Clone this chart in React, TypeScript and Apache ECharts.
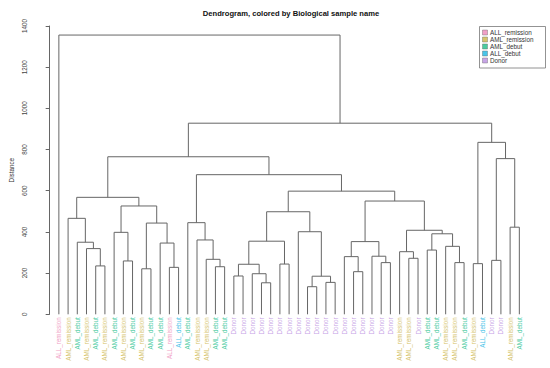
import React, { useEffect, useRef } from 'react';
import * as echarts from 'echarts';

const chartTitle = 'Dendrogram, colored by Biological sample name';
const yAxisName = 'Distance';

const groups = ['ALL_remission', 'AML_remission', 'AML_debut', 'ALL_debut', 'Donor'];
const groupColors = ['#F09FC6', '#D5C46C', '#4ACB9F', '#48C4E8', '#C7A4E6'];

// leaves in dendrogram order (left to right)
const leafLabels = [
  'ALL_remission', 'AML_remission', 'AML_debut', 'AML_remission', 'AML_debut',
  'AML_remission', 'AML_debut', 'AML_remission', 'AML_debut', 'AML_remission',
  'AML_debut', 'AML_debut', 'ALL_remission', 'ALL_debut', 'AML_debut',
  'AML_remission', 'AML_remission', 'AML_debut', 'AML_debut',
  'Donor', 'Donor', 'Donor', 'Donor', 'Donor', 'Donor', 'Donor', 'Donor', 'Donor',
  'Donor', 'Donor', 'Donor', 'Donor', 'Donor', 'Donor', 'Donor', 'Donor', 'Donor',
  'AML_remission', 'AML_remission', 'Donor', 'AML_debut', 'AML_debut',
  'AML_remission', 'AML_remission', 'AML_debut', 'AML_remission', 'ALL_debut',
  'Donor', 'Donor', 'AML_remission', 'AML_debut',
];

// hclust-style merge table: negative = leaf position (1-based), positive = earlier merge (1-based)
const merges: [number, number][] = [
  [-5, -6], [-4, 1], [-3, 2], [-2, 3], [-8, -9], [-7, 5], [-10, -11], [-13, -14], [-12, 8], [7, 9],
  [6, 10], [4, 11], [-18, -19], [-17, 13], [-16, 14], [-15, 15], [-20, -21], [-23, -24], [-22, 18], [17, 19],
  [-25, -26], [20, 21], [-28, -29], [-30, -31], [23, 24], [-27, 25], [22, 26], [-33, -34], [-32, 28], [-36, -37],
  [-35, 30], [29, 31], [-39, -40], [-38, 33], [-41, -42], [-44, -45], [-43, 36], [35, 37], [34, 38], [32, 39],
  [27, 40], [16, 41], [12, 42], [-46, -47], [-48, -49], [-50, -51], [45, 46], [44, 47], [43, 48], [-1, 49],
];

const mergeHeights = [
  235, 319, 350, 466, 259, 398, 221, 228, 346, 443,
  526, 568, 231, 267, 361, 445, 186, 153, 197, 243,
  244, 355, 134, 155, 185, 401, 498, 207, 280, 251,
  282, 353, 272, 304, 312, 251, 330, 391, 408, 550,
  598, 678, 765, 246, 262, 423, 756, 835, 928, 1356,
];

const yMin = 0;
const yMax = 1400;
const yInterval = 200;

const FONT = '"Liberation Sans", Arial, Helvetica, sans-serif';

function buildSegments() {
  const nodeX: number[] = [];
  const posOf = (ref: number) => (ref < 0 ? { x: -ref, h: 0 } : { x: nodeX[ref - 1], h: mergeHeights[ref - 1] });
  const segs: number[][] = [];
  merges.forEach(([a, b], i) => {
    const l = posOf(a);
    const r = posOf(b);
    nodeX[i] = (l.x + r.x) / 2;
    segs.push([l.x, r.x, l.h, r.h, mergeHeights[i]]);
  });
  return segs;
}

export default function App() {
  const ref = useRef<HTMLDivElement>(null);
  useEffect(() => {
    if (!ref.current) return;
    const chart = echarts.init(ref.current, null, { renderer: 'svg' });
    const n = leafLabels.length;
    const spacing = 9.24;
    const firstLeafX = 57.3;
    const gridLeft = firstLeafX - spacing;
    const gridRight = 550 - (gridLeft + (n + 1) * spacing);
    const axisX = 32.3;

    const rich: Record<string, any> = {};
    groups.forEach((g, i) => {
      rich['g' + i] = { color: groupColors[i], fontSize: 6.3, fontFamily: FONT };
    });

    const legendGraphics: any[] = [
      {
        type: 'rect',
        shape: { x: 479.5, y: 26.5, width: 66, height: 41.5 },
        style: { fill: '#fff', stroke: '#777', lineWidth: 0.8 },
      },
    ];
    groups.forEach((g, i) => {
      const cy = 32.5 + i * 7;
      legendGraphics.push({
        type: 'rect',
        shape: { x: 482.5, y: cy - 2.5, width: 5, height: 5 },
        style: { fill: groupColors[i], stroke: '#666', lineWidth: 0.4 },
      });
      legendGraphics.push({
        type: 'text',
        x: 490,
        y: cy,
        style: { text: g, fill: '#333', fontSize: 6.3, fontFamily: FONT, verticalAlign: 'middle', align: 'left' },
      });
    });

    chart.setOption({
      animation: false,
      backgroundColor: '#ffffff',
      title: {
        text: chartTitle,
        left: 286,
        top: 4,
        textAlign: 'center',
        textStyle: { fontSize: 7.6, fontWeight: 'bold', color: '#111', fontFamily: FONT },
      },
      grid: { left: gridLeft, right: gridRight, top: 26, bottom: 368 - 314.3 },
      xAxis: {
        type: 'value',
        min: 0,
        max: n + 1,
        interval: 1,
        axisLine: { show: false },
        axisTick: { show: false },
        splitLine: { show: false },
        axisLabel: {
          rotate: 90,
          margin: 3,
          fontSize: 6.3,
          fontFamily: FONT,
          showMinLabel: true,
          showMaxLabel: true,
          formatter: (v: number) => {
            const idx = Math.round(v) - 1;
            if (idx < 0 || idx >= n) return '';
            const gi = groups.indexOf(leafLabels[idx]);
            return '{g' + gi + '|' + leafLabels[idx] + '}';
          },
          rich,
        },
      },
      yAxis: {
        type: 'value',
        min: yMin,
        max: yMax,
        interval: yInterval,
        offset: gridLeft - axisX,
        name: yAxisName,
        nameLocation: 'middle',
        nameRotate: 90,
        nameGap: 19,
        nameTextStyle: { fontSize: 6.3, color: '#333', fontFamily: FONT },
        axisLine: { show: true, lineStyle: { color: '#666', width: 1 } },
        axisTick: { show: true, length: 4, lineStyle: { color: '#666' } },
        splitLine: { show: false },
        axisLabel: {
          rotate: 90,
          margin: 6,
          fontSize: 6.3,
          color: '#444',
          fontFamily: FONT,
          formatter: (v: number) => String(v),
        },
      },
      graphic: legendGraphics,
      series: [
        {
          type: 'custom',
          encode: { x: [0, 1], y: [2, 3, 4] },
          data: buildSegments(),
          renderItem: (params: any, api: any) => {
            const xl = api.value(0);
            const xr = api.value(1);
            const hl = api.value(2);
            const hr = api.value(3);
            const h = api.value(4);
            const pts = [api.coord([xl, hl]), api.coord([xl, h]), api.coord([xr, h]), api.coord([xr, hr])];
            return {
              type: 'polyline',
              shape: { points: pts },
              style: { stroke: '#666', lineWidth: 1, fill: null },
            };
          },
        },
      ],
    });
    return () => chart.dispose();
  }, []);
  return (
    <div
      ref={ref}
      style={{ position: 'fixed', left: 0, top: 0, width: 550, height: 368, background: '#fff' }}
    />
  );
}
